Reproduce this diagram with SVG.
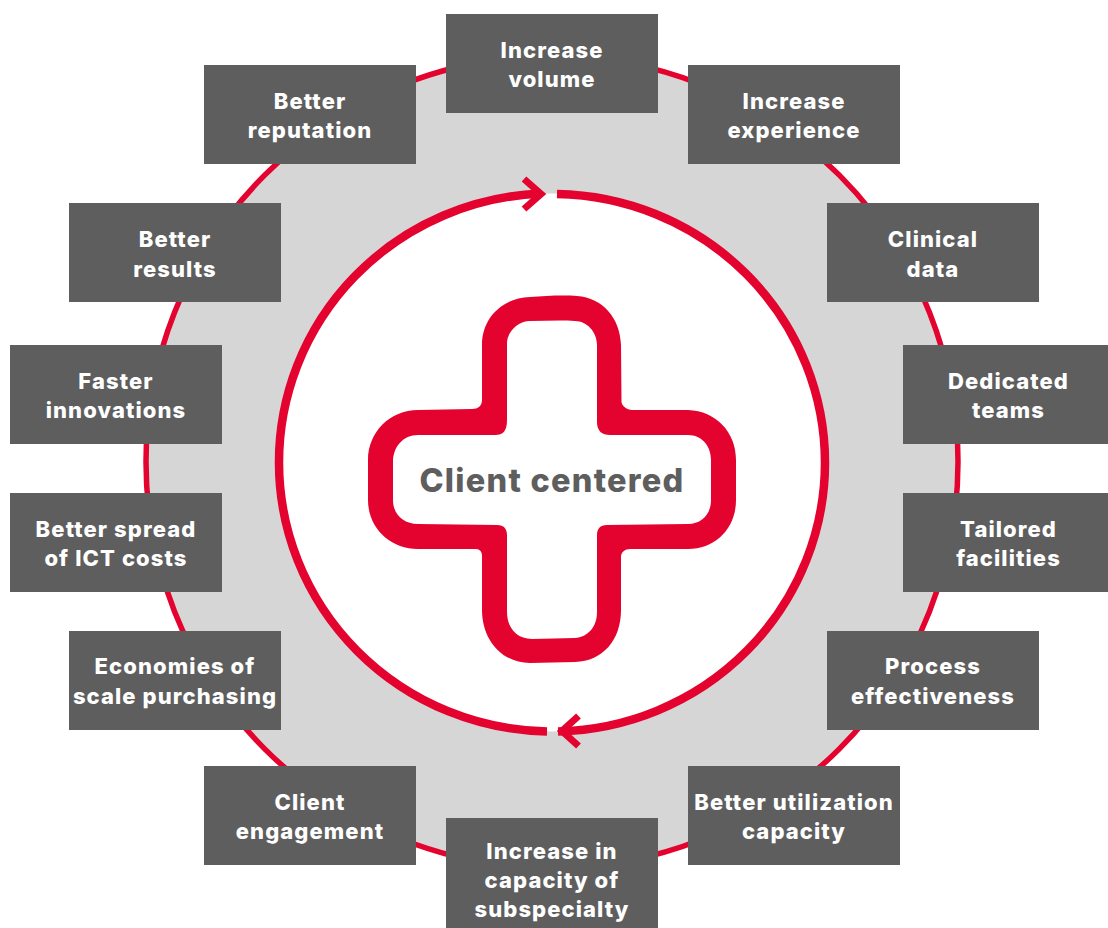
<svg xmlns="http://www.w3.org/2000/svg" width="1108" height="928" viewBox="0 0 1108 928">
<style>
.box{fill:#5e5e5e}
.lbl{font-family:Inter,"Liberation Sans",sans-serif;font-weight:800;font-size:22px;letter-spacing:1.1px;fill:#fff;text-anchor:middle}
.ln{fill:none;stroke:#e4032e}
</style>
<rect width="1108" height="928" fill="#fff"/>
<g id="connectors">
<ellipse cx="552" cy="462" rx="406" ry="406" fill="#d6d6d6" stroke="#e4032e" stroke-width="5.5"/>
<ellipse cx="552" cy="462.500" rx="273" ry="269" fill="#fff"/>
<path class="ln" stroke-width="8.500" d="M557 194A273 269 0 0 1 825 462.500A273 269 0 0 1 558 731.400"/>
<path class="ln" stroke-width="8.500" d="M547 731.400A273 269 0 0 1 279 462.500A273 269 0 0 1 541 193.600"/>
<path class="ln" stroke-width="7" d="M524 179L541 194L524 209"/>
<path class="ln" stroke-width="7" d="M578.500 716L562 731L578.500 746"/>
</g>
<g id="center">
<path fill="#e4032e" fill-rule="evenodd" d="M482 345C482 318 502 298 530 297C545 296 562 295 577 296C603 298 620 318 621 345L621.500 402C622 406 627 410 632 410L688 410C716 411 736 432 736 460L736 500C736 528 716 549 688 549L630 549C625 549 621 552 621 557L621 610C621 640 603 661 575 662L530 663C502 663 482 640 482 610L482 556C482 552 480 549 476 549L418 549C390 549 368 528 368 500L368 460C368 432 390 410 418 410L472 409C478 409 482 406 482 400ZM507 343L507 420C507 431 503 435 495 435L418 435C403 435 393 447 393 462L393 500C393 514 403 524 418 524L497 525C504 525 507 529 507 535L507 612C507 627 516 639 532 639L575 638C588 637 597 627 597 612L597 535C597 529 600 525 607 525L688 524C702 524 711 514 711 500L711 460C711 446 702 435 688 435L610 435C602 435 597 431 597 422L597 345C597 332 587 321 575 321C560 320 545 321 530 321C518 321 507 332 507 343Z"/>
<text x="552" y="492" font-family="Inter,'Liberation Sans',sans-serif" font-weight="800" font-size="32.500" letter-spacing="1.250" fill="#5e5e5e" text-anchor="middle">Client centered</text>
</g>
<g id="n1"><rect class="box" x="446" y="14" width="212" height="99"/><text class="lbl" x="552" y="58">Increase</text><text class="lbl" x="552" y="87">volume</text></g>
<g id="n2"><rect class="box" x="688" y="65" width="212" height="99"/><text class="lbl" x="794" y="109">Increase</text><text class="lbl" x="794" y="138">experience</text></g>
<g id="n3"><rect class="box" x="827" y="203" width="212" height="99"/><text class="lbl" x="933" y="247">Clinical</text><text class="lbl" x="933" y="277">data</text></g>
<g id="n4"><rect class="box" x="903" y="345" width="205" height="99"/><text class="lbl" x="1008.500" y="389">Dedicated</text><text class="lbl" x="1008.500" y="418">teams</text></g>
<g id="n5"><rect class="box" x="903" y="493" width="205" height="99"/><text class="lbl" x="1008.500" y="537">Tailored</text><text class="lbl" x="1008.500" y="566">facilities</text></g>
<g id="n6"><rect class="box" x="827" y="631" width="212" height="99"/><text class="lbl" x="933" y="674">Process</text><text class="lbl" x="933" y="704">effectiveness</text></g>
<g id="n7"><rect class="box" x="688" y="766" width="212" height="99"/><text class="lbl" x="794" y="810">Better utilization</text><text class="lbl" x="794" y="839">capacity</text></g>
<g id="n8"><rect class="box" x="446" y="818" width="212" height="110"/><text class="lbl" x="552" y="859">Increase in</text><text class="lbl" x="552" y="888">capacity of</text><text class="lbl" x="552" y="917">subspecialty</text></g>
<g id="n9"><rect class="box" x="204" y="766" width="212" height="99"/><text class="lbl" x="310" y="810">Client</text><text class="lbl" x="310" y="839">engagement</text></g>
<g id="n10"><rect class="box" x="69" y="631" width="212" height="99"/><text class="lbl" x="175" y="674">Economies of</text><text class="lbl" x="175" y="704">scale purchasing</text></g>
<g id="n11"><rect class="box" x="10" y="493" width="212" height="99"/><text class="lbl" x="116" y="537">Better spread</text><text class="lbl" x="116" y="566">of ICT costs</text></g>
<g id="n12"><rect class="box" x="10" y="345" width="212" height="99"/><text class="lbl" x="116" y="389">Faster</text><text class="lbl" x="116" y="418">innovations</text></g>
<g id="n13"><rect class="box" x="69" y="203" width="212" height="99"/><text class="lbl" x="175" y="247">Better</text><text class="lbl" x="175" y="277">results</text></g>
<g id="n14"><rect class="box" x="204" y="65" width="212" height="99"/><text class="lbl" x="310" y="109">Better</text><text class="lbl" x="310" y="138">reputation</text></g>
</svg>
